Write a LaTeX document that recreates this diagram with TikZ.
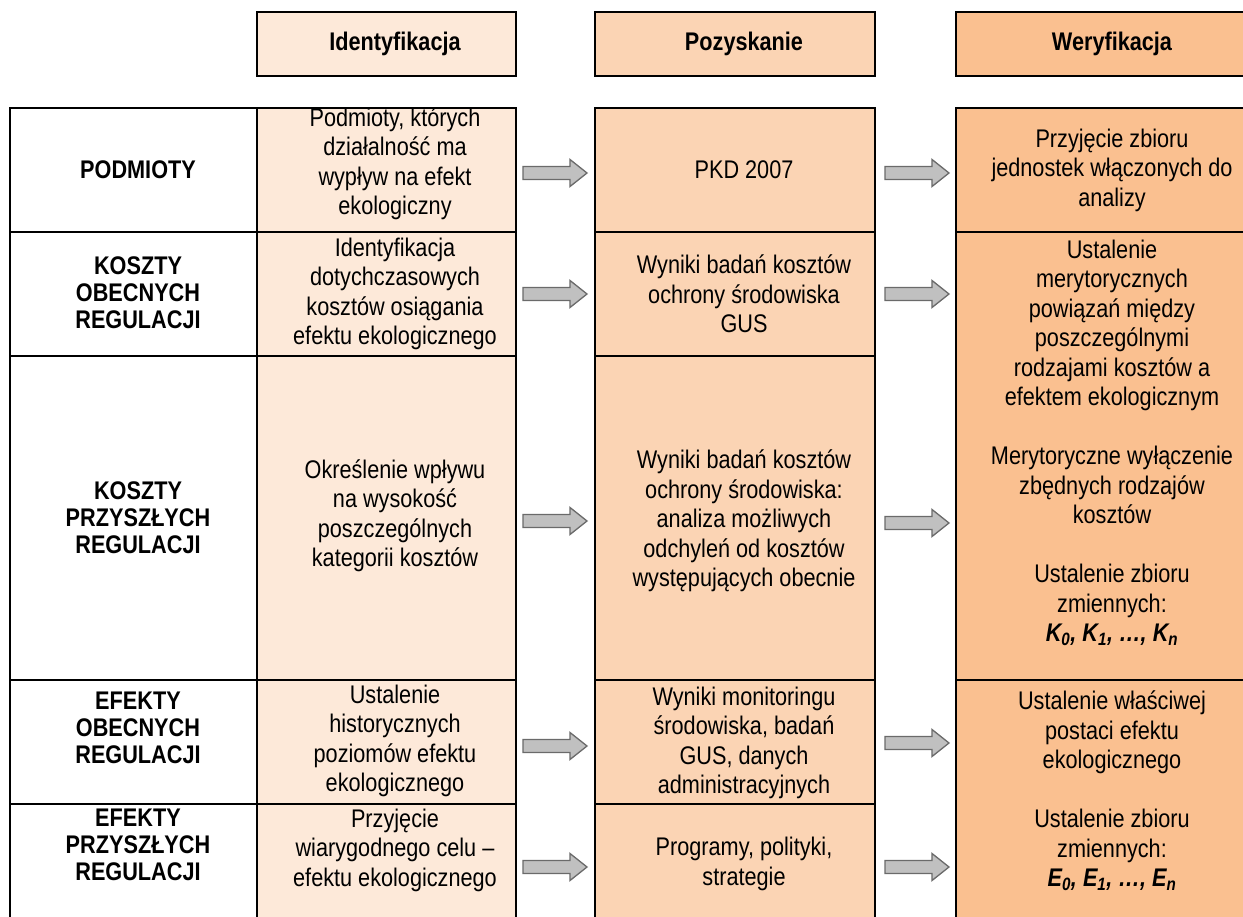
\documentclass[tikz,border=0pt]{standalone}
\usepackage{fontspec}
\setmainfont{Liberation Sans}[FakeStretch=0.85]
\definecolor{idfill}{HTML}{FDE9D9}
\definecolor{pofill}{HTML}{FBD4B4}
\definecolor{wefill}{HTML}{FAC090}
\definecolor{arrfill}{HTML}{C0C0C0}
\definecolor{arrline}{HTML}{6A6A6A}
\begin{document}
\begin{tikzpicture}[x=1pt,y=-1pt,
  cell/.style 2 args={draw=black, line width=2.2pt, inner sep=0pt, outer sep=0pt,
    anchor=north west, minimum width=#1, minimum height=#2},
  txt/.style={align=center, inner sep=0pt, font=\fontsize{25.5}{29.5}\selectfont},
  lab/.style={align=center, inner sep=0pt, font=\bfseries\fontsize{25.5}{27}\selectfont},
  blockarrow/.pic={\draw[fill=arrfill, draw=arrline, line width=1.3pt, line join=miter]
    (0,-6.5) -- (47,-6.5) -- (47,-13.5) -- (64,0) -- (47,13.5) -- (47,6.5) -- (0,6.5) -- cycle;}]
\useasboundingbox (0,0) rectangle (1243,917);
\clip (0,0) rectangle (1243,917);
\fill[white] (0,0) rectangle (1243,917);

% column headers
\node[cell={259pt}{64pt}, fill=idfill] (hid) at (257,12) {};
\node[cell={280pt}{64pt}, fill=pofill] (hpo) at (595,12) {};
\node[cell={312pt}{64pt}, fill=wefill] (hwe) at (956,12) {};
\node[lab] (thid) at (395,44) {Identyfikacja};
\node[lab] (thpo) at (744,44) {Pozyskanie};
\node[lab] (thwe) at (1112,44) {Weryfikacja};

% row labels
\node[cell={247pt}{124pt}] (l1) at (10,108) {};
\node[cell={247pt}{124pt}] (l2) at (10,232) {};
\node[cell={247pt}{324pt}] (l3) at (10,356) {};
\node[cell={247pt}{124pt}] (l4) at (10,680) {};
\node[cell={247pt}{140pt}] (l5) at (10,804) {};

% identification column
\node[cell={259pt}{124pt}, fill=idfill] (a1) at (257,108) {};
\node[cell={259pt}{124pt}, fill=idfill] (a2) at (257,232) {};
\node[cell={259pt}{324pt}, fill=idfill] (a3) at (257,356) {};
\node[cell={259pt}{124pt}, fill=idfill] (a4) at (257,680) {};
\node[cell={259pt}{140pt}, fill=idfill] (a5) at (257,804) {};

% acquisition column
\node[cell={280pt}{124pt}, fill=pofill] (b1) at (595,108) {};
\node[cell={280pt}{124pt}, fill=pofill] (b2) at (595,232) {};
\node[cell={280pt}{324pt}, fill=pofill] (b3) at (595,356) {};
\node[cell={280pt}{124pt}, fill=pofill] (b4) at (595,680) {};
\node[cell={280pt}{140pt}, fill=pofill] (b5) at (595,804) {};

% verification column
\node[cell={312pt}{124pt}, fill=wefill] (c1) at (956,108) {};
\node[cell={312pt}{448pt}, fill=wefill] (c2) at (956,232) {};
\node[cell={312pt}{264pt}, fill=wefill] (c3) at (956,680) {};

% row label texts
\node[lab] (tl1) at (138,170) {PODMIOTY};
\node[lab] (tl2) at (138,293) {KOSZTY\\OBECNYCH\\REGULACJI};
\node[lab] (tl3) at (138,518) {KOSZTY\\PRZYSZŁYCH\\REGULACJI};
\node[lab] (tl4) at (138,728) {EFEKTY\\OBECNYCH\\REGULACJI};
\node[lab] (tl5) at (138,845) {EFEKTY\\PRZYSZŁYCH\\REGULACJI};

% identification texts
\node[txt] (ta1) at (395,164) {Podmioty, których\\działalność ma\\wypływ na efekt\\ekologiczny};
\node[txt] (ta2) at (395,294) {Identyfikacja\\dotychczasowych\\kosztów osiągania\\efektu ekologicznego};
\node[txt] (ta3) at (395,516) {Określenie wpływu\\na wysokość\\poszczególnych\\kategorii kosztów};
\node[txt] (ta4) at (395,741) {Ustalenie\\historycznych\\poziomów efektu\\ekologicznego};
\node[txt] (ta5) at (395,850) {Przyjęcie\\wiarygodnego celu –\\efektu ekologicznego};

% acquisition texts
\node[txt] (tb1) at (744,170) {PKD 2007};
\node[txt] (tb2) at (744,294) {Wyniki badań kosztów\\ochrony środowiska\\GUS};
\node[txt] (tb3) at (744,521) {Wyniki badań kosztów\\ochrony środowiska:\\analiza możliwych\\odchyleń od kosztów\\występujących obecnie};
\node[txt] (tb4) at (744,743) {Wyniki monitoringu\\środowiska, badań\\GUS, danych\\administracyjnych};
\node[txt] (tb5) at (744,864) {Programy, polityki,\\strategie};

% verification texts
\node[txt] (tc1) at (1112,170) {Przyjęcie zbioru\\jednostek włączonych do\\analizy};
\node[txt] (tc2) at (1112,443) {Ustalenie\\merytorycznych\\powiązań między\\poszczególnymi\\rodzajami kosztów a\\efektem ekologicznym\\[29.5pt]Merytoryczne wyłączenie\\zbędnych rodzajów\\kosztów\\[29.5pt]Ustalenie zbioru\\zmiennych:\\\textbf{\textit{K\textsubscript{0}, K\textsubscript{1}, …, K\textsubscript{n}}}};
\node[txt] (tc3) at (1112,791) {Ustalenie właściwej\\postaci efektu\\ekologicznego\\[29.5pt]Ustalenie zbioru\\zmiennych:\\\textbf{\textit{E\textsubscript{0}, E\textsubscript{1}, …, E\textsubscript{n}}}};

% block arrows between the columns
\coordinate (p1) at (523,173);
\coordinate (p2) at (523,294);
\coordinate (p3) at (523,521);
\coordinate (p4) at (523,746);
\coordinate (p5) at (523,867);
\coordinate (q1) at (885,173);
\coordinate (q2) at (885,294);
\coordinate (q3) at (885,523);
\coordinate (q4) at (885,743);
\coordinate (q5) at (885,867);
\foreach \n in {p1,p2,p3,p4,p5,q1,q2,q3,q4,q5}
  \path (\n) pic {blockarrow};
\end{tikzpicture}
\end{document}
